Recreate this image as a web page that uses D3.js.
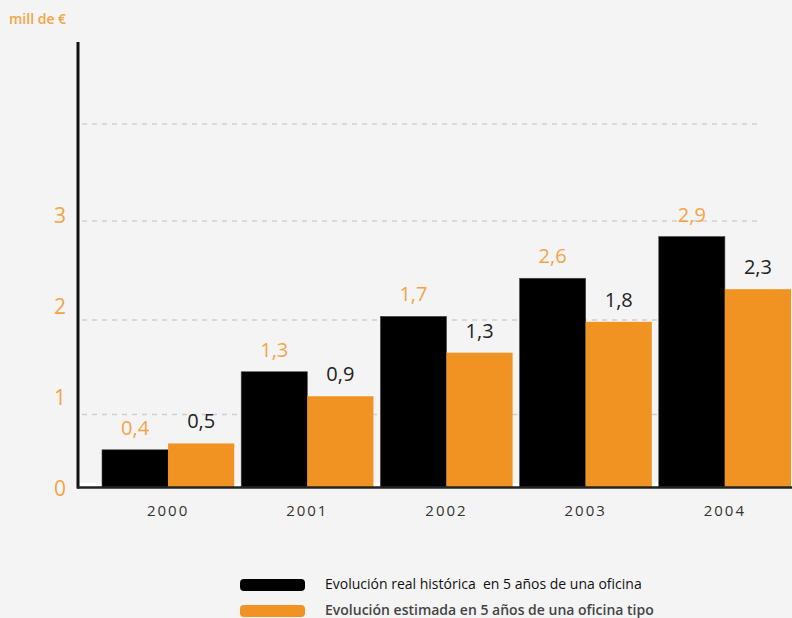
<!DOCTYPE html>
<html>
<head>
<meta charset="utf-8">
<script src="https://cdn.jsdelivr.net/npm/d3@7"></script>
<style>
  body { margin: 0; background: #f4f4f4; }
  svg { display: block; font-family: "Open Sans", "Noto Sans", sans-serif; }
</style>
</head>
<body>
<div id="chart"></div>
<script>
// Chart data
const years = ["2000", "2001", "2002", "2003", "2004"];
// bar heights as drawn (read against the axis)
const realValues = [0.41, 1.27, 1.88, 2.30, 2.76];
const estValues = [0.48, 1.00, 1.48, 1.82, 2.18];
// value labels printed above the bars
const realLabels = ["0,4", "1,3", "1,7", "2,6", "2,9"];
const estLabels = ["0,5", "0,9", "1,3", "1,8", "2,3"];
const yTicks = [0, 1, 2, 3];
const gridValues = [0.8, 1.84, 2.93, 4.0];
const legendLabels = [
  "Evolución real histórica  en 5 años de una oficina",
  "Evolución estimada en 5 años de una oficina tipo"
];

const width = 792;
const height = 618;
const black = "#000000";
const orange = "#f09322";
const labelOrange = "#f2a446";

const svg = d3.select("#chart")
  .append("svg")
  .attr("width", width)
  .attr("height", height);

svg.append("rect")
  .attr("width", width)
  .attr("height", height)
  .attr("fill", "#f4f4f4");

const y = d3.scaleLinear()
  .domain([0, 4])
  .range([487, 124]);

const x = d3.scaleBand()
  .domain(years)
  .range([102, 791])
  .paddingInner(0.05)
  .paddingOuter(0);

const xSub = d3.scaleBand()
  .domain(["real", "est"])
  .range([0, x.bandwidth()]);

// dashed gridlines
svg.selectAll(".grid")
  .data(gridValues)
  .enter().append("line")
  .attr("class", "grid")
  .attr("x1", 82)
  .attr("x2", 760)
  .attr("y1", d => y(d))
  .attr("y2", d => y(d))
  .attr("stroke", "#cfcfcf")
  .attr("stroke-width", 1.5)
  .attr("stroke-dasharray", "5,5");

// white strip along the baseline
svg.append("rect")
  .attr("x", 80)
  .attr("y", y(0) - 4)
  .attr("width", width - 80)
  .attr("height", 4)
  .attr("fill", "#ffffff");

// bars
const groups = svg.selectAll(".year")
  .data(years)
  .enter().append("g")
  .attr("class", "year")
  .attr("transform", d => `translate(${x(d)},0)`);

groups.append("rect")
  .attr("x", xSub("real"))
  .attr("width", xSub.bandwidth())
  .attr("y", (d, i) => y(realValues[i]))
  .attr("height", (d, i) => y(0) - y(realValues[i]))
  .attr("fill", black)
  .attr("stroke", "#444")
  .attr("stroke-width", 0.6);

groups.append("rect")
  .attr("x", xSub("est"))
  .attr("width", xSub.bandwidth())
  .attr("y", (d, i) => y(estValues[i]))
  .attr("height", (d, i) => y(0) - y(estValues[i]))
  .attr("fill", orange);

// value labels
groups.append("text")
  .attr("x", xSub("real") + xSub.bandwidth() / 2)
  .attr("y", (d, i) => y(realValues[i]) - 15)
  .attr("text-anchor", "middle")
  .attr("font-size", 20)
  .attr("font-weight", 500)
  .attr("fill", labelOrange)
  .text((d, i) => realLabels[i]);

groups.append("text")
  .attr("x", xSub("est") + xSub.bandwidth() / 2)
  .attr("y", (d, i) => y(estValues[i]) - 15)
  .attr("text-anchor", "middle")
  .attr("font-size", 20)
  .attr("font-weight", 500)
  .attr("fill", "#222")
  .text((d, i) => estLabels[i]);

// year labels
svg.selectAll(".yearLabel")
  .data(years)
  .enter().append("text")
  .attr("class", "yearLabel")
  .attr("x", d => x(d) + x.bandwidth() / 2)
  .attr("y", 516)
  .attr("text-anchor", "middle")
  .attr("font-size", 15)
  .attr("font-weight", 500)
  .attr("letter-spacing", 2)
  .attr("fill", "#333")
  .text(d => d);

// y tick labels
svg.selectAll(".yTick")
  .data(yTicks)
  .enter().append("text")
  .attr("class", "yTick")
  .attr("x", 60)
  .attr("y", d => y(d) + 3)
  .attr("text-anchor", "middle")
  .attr("dominant-baseline", "middle")
  .attr("font-size", 21)
  .attr("font-weight", 500)
  .attr("fill", labelOrange)
  .text(d => d);

// axes
svg.append("line")
  .attr("x1", 78).attr("x2", 78)
  .attr("y1", 42).attr("y2", y(0) + 1.5)
  .attr("stroke", "#111")
  .attr("stroke-width", 3);

svg.append("line")
  .attr("x1", 77).attr("x2", width)
  .attr("y1", y(0) + 0.5).attr("y2", y(0) + 0.5)
  .attr("stroke", "#222")
  .attr("stroke-width", 2.5);

// unit label
svg.append("text")
  .attr("x", 9)
  .attr("y", 24)
  .attr("font-size", 14)
  .attr("font-weight", 600)
  .attr("fill", labelOrange)
  .text("mill de €");

// legend
const legend = svg.selectAll(".legend")
  .data(legendLabels)
  .enter().append("g")
  .attr("class", "legend")
  .attr("transform", (d, i) => `translate(240,${579 + i * 26})`);

legend.append("rect")
  .attr("width", 65)
  .attr("height", 12)
  .attr("rx", 4)
  .attr("fill", (d, i) => i === 0 ? black : orange);

legend.append("text")
  .attr("x", 85)
  .attr("y", 10)
  .attr("font-size", 14)
  .attr("font-weight", (d, i) => i === 0 ? 400 : 600)
  .attr("fill", (d, i) => i === 0 ? "#111" : "#444")
  .style("white-space", "pre")
  .text(d => d);
</script>
</body>
</html>
